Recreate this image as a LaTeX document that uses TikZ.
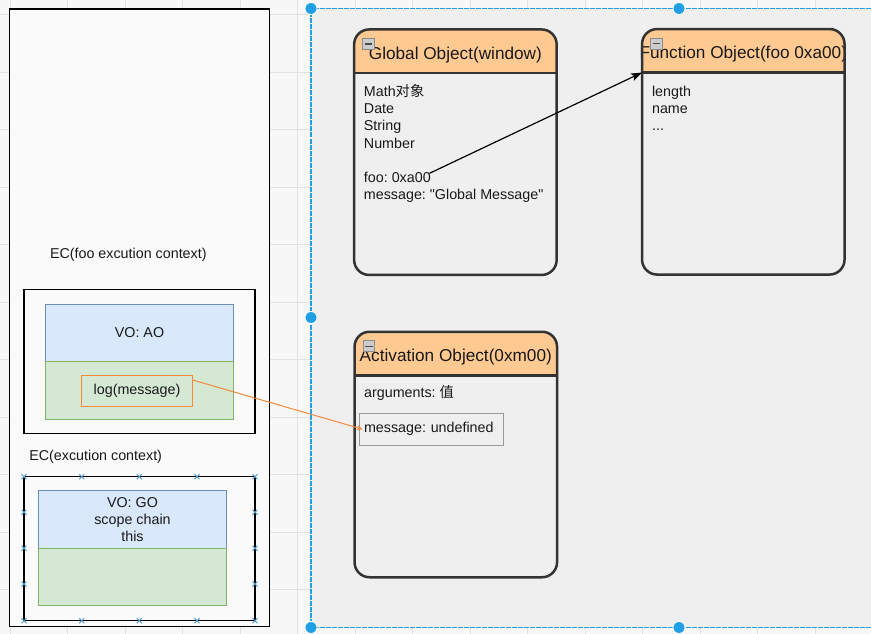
\documentclass[tikz,border=0pt]{standalone}
\usepackage{fontspec}
\setmainfont{Liberation Sans}[Ligatures=TeXOff]
\newfontfamily\cjk{Noto Sans CJK SC}
\usetikzlibrary{arrows.meta,positioning}

\definecolor{canvasbg}{HTML}{F7F7F7}
\definecolor{gridcol}{HTML}{E2E2E2}
\definecolor{poolbg}{HTML}{EFEFEF}
\definecolor{selblue}{HTML}{1E9FE6}
\definecolor{hdrfill}{HTML}{FFC992}
\definecolor{objline}{HTML}{333333}
\definecolor{vofill}{HTML}{DAE8FC}
\definecolor{voline}{HTML}{6C8EBF}
\definecolor{bodyfill}{HTML}{D5E8D4}
\definecolor{bodyline}{HTML}{82B366}
\definecolor{refline}{HTML}{F58A3C}
\definecolor{markcol}{HTML}{4A9AC9}

\begin{document}
\frenchspacing
\begin{tikzpicture}[
                x=1pt, y=-1pt,
                every node/.style={inner sep=0pt, outer sep=0pt, text=black!90},
                basefont/.style={font=\fontsize{14.3}{17.2}\selectfont\frenchspacing},
                titlefont/.style={font=\fontsize{17.2}{20}\selectfont},
                ecbox/.style={draw=black, line width=1.4pt, fill=white!98!black},
                vohead/.style={draw=voline, fill=vofill, line width=1pt, minimum width=187.6pt, minimum height=57.6pt, basefont, align=center},
                vobody/.style={draw=bodyline, fill=bodyfill, line width=1pt, minimum width=187.6pt, minimum height=57.6pt},
                logbox/.style={draw=refline, fill=bodyfill, line width=1pt, minimum width=111.4pt, minimum height=30.6pt, basefont},
                objbox/.style={fill=poolbg, minimum width=202.5pt, minimum height=245.5pt},
                objborder/.style={draw=objline, line width=2.5pt},
                collapse/.style={draw=black!45, fill=black!20, line width=0.6pt},
                bodytext/.style={basefont, align=left, anchor=north west},
                msgbox/.style={draw=black!40, line width=0.8pt, fill=poolbg, text width=134.6pt, inner xsep=4.7pt, minimum height=32pt, align=left, basefont},
                ptr/.style={draw=black, line width=1.2pt, -{Stealth[length=11pt, width=8pt, inset=2.5pt]}},
                refarrow/.style={draw=refline, line width=1pt, -{Stealth[length=6pt, width=5pt]}},
                anchorx/.style={draw=markcol, line width=0.9pt},
                handle/.style={fill=selblue, draw=white, line width=0.8pt}
            ]

            \useasboundingbox (0,0) rectangle (871,634);
            % canvas and grid
            \fill[canvasbg] (0,0) rectangle (871,634);
            \foreach \gx in {0,...,15}
                \draw[gridcol, line width=0.6pt] ({10+57.5*\gx},0) -- ({10+57.5*\gx},634);
            \foreach \gy in {0,...,10}
                \draw[gridcol, line width=0.6pt] (0,{14.5+57.5*\gy}) -- (871,{14.5+57.5*\gy});
            \fill[poolbg] (311,8.5) rectangle (871,627.5);

            % execution context stack
            \node[ecbox, minimum width=260pt, minimum height=617.7pt] (stack) at (139.3,317.9) {};
            \node[basefont, anchor=base] (foolabel) at (128.3,258.3) {EC(foo excution context)};
            \node[ecbox, minimum width=231pt, minimum height=144pt] (fooec) at (139.5,361.3) {};
            \node[vohead] (aovo) at (139.5,332.85) {VO: AO};
            \node[vobody, below=0pt of aovo] (aobody) {};
            \node[logbox] (log) at (137,391) {log(message)};

            \node[basefont, anchor=base west] (gllabel) at (29.3,460) {EC(excution context)};
            \node[ecbox, minimum width=231pt, minimum height=144pt] (glec) at (139.5,548.7) {};
            \node[vohead] (govo) at (132.5,519.5) {VO: GO\\scope chain\\this};
            \node[vobody, below=0pt of govo] (gobody) {};
            \foreach \mx in {24,81.7,139.3,197,255} {
                \draw[anchorx] (\mx,476.7) ++(-2.5pt,-2.5pt) -- ++(5pt,5pt) ++(-5pt,0) -- ++(5pt,-5pt);
                \draw[anchorx] (\mx,620.7) ++(-2.5pt,-2.5pt) -- ++(5pt,5pt) ++(-5pt,0) -- ++(5pt,-5pt);
            }
            \foreach \my in {512.3,548.3,584} {
                \draw[anchorx] (24,\my) ++(-2.5pt,-2.5pt) -- ++(5pt,5pt) ++(-5pt,0) -- ++(5pt,-5pt);
                \draw[anchorx] (255,\my) ++(-2.5pt,-2.5pt) -- ++(5pt,5pt) ++(-5pt,0) -- ++(5pt,-5pt);
            }

            % heap objects
            \node[objbox] (go) at (455.4,152.2) {};
            \node[objbox] (fo) at (743.3,151.8) {};
            \node[objbox] (ao) at (455.8,454.5) {};
            \foreach \o in {go,fo,ao} {
                \begin{scope}
                    \clip[rounded corners=15pt] (\o.north west) rectangle (\o.south east);
                    \fill[hdrfill] (\o.north west) rectangle ([yshift=-43.5pt]\o.north east);
                \end{scope}
            }
            \node[titlefont, anchor=base] (gotitle) at ([yshift=-30pt]go.north) {Global Object(window)};
            \node[titlefont, anchor=base] (fotitle) at ([yshift=-29.3pt]fo.north) {Function Object(foo 0xa00)};
            \node[titlefont, anchor=base] (aotitle) at ([yshift=-30pt]ao.north) {Activation Object(0xm00)};
            \foreach \o in {go,fo,ao} {
                \draw[objborder] ([yshift=-43.5pt]\o.north west) -- ([yshift=-43.5pt]\o.north east);
                \draw[objborder, rounded corners=15pt] (\o.north west) rectangle (\o.south east);
                \draw[collapse] ([shift={(8.5pt,-9pt)}]\o.north west) rectangle ++(11.5pt,-11pt);
                \draw[black!70, line width=1.2pt] ([shift={(10.5pt,-14.5pt)}]\o.north west) -- ++(7.5pt,0);
            }

            \node[bodytext] (gotext) at ([shift={(9.8pt,-54pt)}]go.north west)
                {\rule{0pt}{13pt}Math{\cjk 对象}\\Date\\String\\Number\\[17.2pt]foo: 0xa00\\message: "Global Message"};
            \node[bodytext] (fotext) at ([shift={(10pt,-54pt)}]fo.north west)
                {\rule{0pt}{13pt}length\\name\\...};
            \node[bodytext] (aotext) at ([shift={(9.6pt,-52.5pt)}]ao.north west)
                {\rule{0pt}{13pt}arguments: {\cjk 值}};
            \node[msgbox] (msg) at (431.3,429.3) {message: undefined};

            % references
            \coordinate (fooref) at (429.5,173.3);
            \draw[ptr] (fooref) -- ([yshift=-43.5pt]fo.north west);
            \draw[refarrow] ([yshift=-4.3pt]log.north east) -- ([xshift=3.5pt]msg.west);

            % selection frame
            \draw[selblue, line width=1.3pt, dash pattern=on 5pt off 1pt] (871,8.5) -- (311,8.5) -- (311,627.5) -- (871,627.5);
            \foreach \hx/\hy in {311/8.5, 679/8.5, 311/317.5, 311/627.5, 679/627.5}
                \draw[handle] (\hx,\hy) circle (6pt);

        \end{tikzpicture}
\end{document}
